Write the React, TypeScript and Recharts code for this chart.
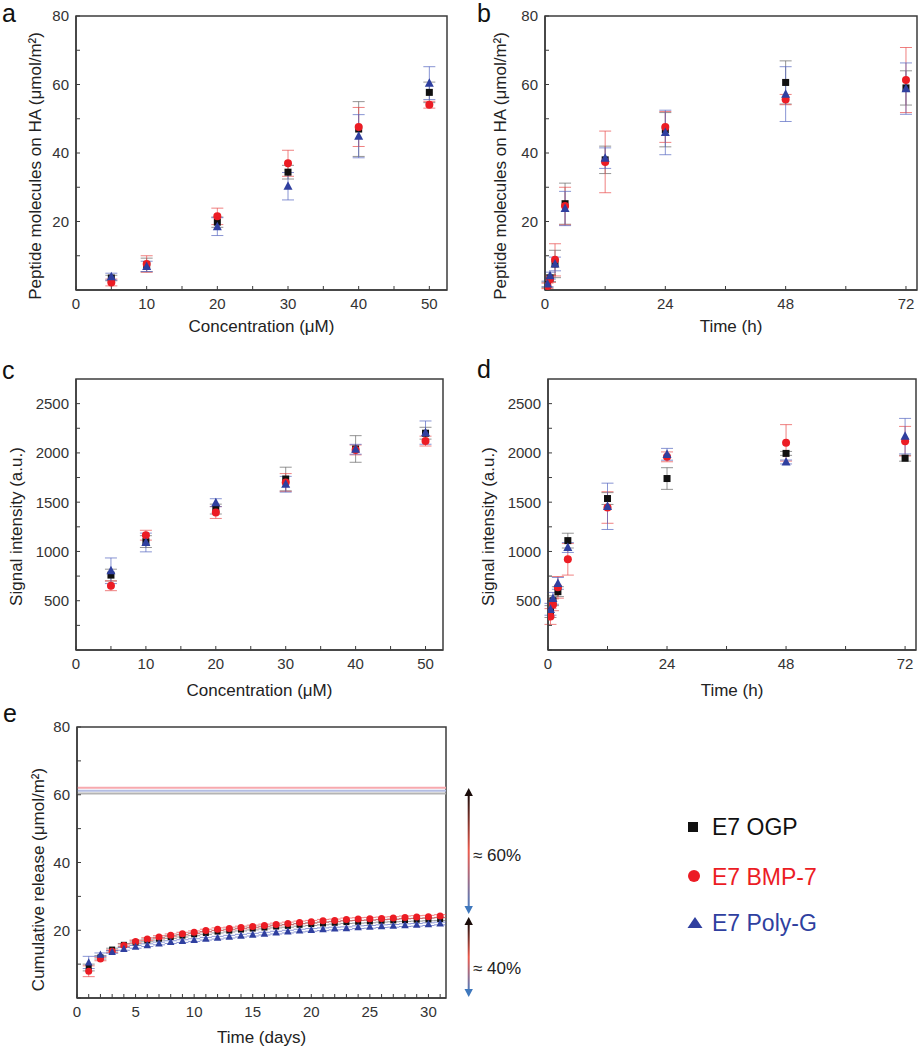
import React from "react";
import { ScatterChart, Scatter, XAxis, YAxis, ErrorBar, ReferenceArea, ReferenceLine } from "recharts";

const FONT = '"Liberation Sans", Arial, Helvetica, sans-serif';
const AXIS = "#3c3c3c";
const BLACK = "#111111";
const RED = "#ec1c24";
const BLUE = "#2f3f9f";

const NAMES = ["E7 OGP", "E7 BMP-7", "E7 Poly-G"];

// a: adsorption vs concentration
const concA = [5, 10, 20, 30, 40, 50];
const ogpA = [3.5, 7.3, 19.8, 34.4, 47.0, 57.7];
const ogpAErr = [0.8, 2.0, 1.5, 2.0, 8.0, 3.0];
const bmpA = [2.2, 7.6, 21.5, 37.0, 47.6, 54.1];
const bmpAErr = [1.0, 2.4, 2.4, 3.8, 5.7, 1.0];
const polyA = [3.9, 6.9, 18.5, 30.3, 44.9, 60.4];
const polyAErr = [1.0, 1.5, 2.6, 4.0, 6.3, 4.8];

// b: adsorption vs time
const timeB = [0.5, 1, 2, 4, 12, 24, 48, 72];
const ogpB = [1.5, 3.5, 7.6, 25.2, 38.0, 46.8, 60.6, 59.0];
const ogpBErr = [0.8, 1.0, 4.0, 6.0, 4.0, 5.0, 6.3, 5.0];
const bmpB = [1.2, 3.2, 8.8, 24.5, 37.4, 47.6, 55.6, 61.3];
const bmpBErr = [0.8, 1.0, 4.7, 5.5, 9.0, 4.5, 1.5, 9.5];
const polyB = [1.8, 4.2, 7.6, 23.8, 38.5, 46.0, 57.2, 58.8];
const polyBErr = [0.8, 1.0, 2.0, 5.0, 3.0, 6.5, 8.0, 7.5];

// c: signal vs concentration
const concC = [5, 10, 20, 30, 40, 50];
const ogpC = [760, 1100, 1430, 1735, 2040, 2200];
const ogpCErr = [60, 60, 50, 120, 135, 60];
const bmpC = [652, 1165, 1395, 1700, 2030, 2120];
const bmpCErr = [50, 50, 60, 90, 50, 50];
const polyC = [804, 1091, 1495, 1682, 2037, 2206];
const polyCErr = [130, 95, 40, 80, 50, 118];

// d: signal vs time
const timeD = [0.5, 1, 2, 4, 12, 24, 48, 72];
const ogpD = [390, 500, 592, 1110, 1537, 1740, 1995, 1946];
const ogpDErr = [60, 50, 50, 75, 60, 110, 20, 30];
const bmpD = [340, 459, 636, 920, 1446, 1960, 2102, 2119];
const bmpDErr = [80, 60, 110, 160, 160, 50, 185, 150];
const polyD = [413, 524, 676, 1040, 1458, 1986, 1908, 2170];
const polyDErr = [60, 60, 60, 50, 235, 60, 20, 180];

// e: cumulative release
const daysE = [1, 2, 3, 4, 5, 6, 7, 8, 9, 10, 11, 12, 13, 14, 15, 16, 17, 18, 19, 20, 21, 22, 23, 24, 25, 26, 27, 28, 29, 30, 31];
const ogpE = [9.0, 12.0, 14.3, 15.7, 16.4, 17.0, 17.5, 18.0, 18.4, 18.8, 19.2, 19.6, 19.9, 20.2, 20.5, 20.8, 21.1, 21.3, 21.6, 21.8, 22.0, 22.2, 22.4, 22.5, 22.6, 22.8, 22.9, 23.0, 23.1, 23.2, 23.3];
const ogpEErr = [1.0, 0.5, 0.4, 0.4, 0.4, 0.4, 0.4, 0.4, 0.4, 0.4, 0.4, 0.4, 0.4, 0.4, 0.4, 0.4, 0.4, 0.4, 0.4, 0.4, 0.4, 0.4, 0.4, 0.4, 0.4, 0.4, 0.4, 0.4, 0.4, 0.4, 0.4];
const bmpE = [7.9, 11.5, 13.8, 15.5, 16.7, 17.4, 18.0, 18.5, 19.0, 19.4, 19.9, 20.3, 20.5, 20.8, 21.1, 21.4, 21.7, 22.0, 22.3, 22.5, 22.8, 22.9, 23.2, 23.3, 23.4, 23.5, 23.6, 23.8, 23.9, 24.0, 24.2];
const bmpEErr = [1.6, 0.5, 0.4, 0.4, 0.4, 0.4, 0.4, 0.4, 0.4, 0.4, 0.4, 0.4, 0.4, 0.4, 0.4, 0.4, 0.4, 0.4, 0.4, 0.4, 0.4, 0.4, 0.4, 0.4, 0.4, 0.4, 0.4, 0.4, 0.4, 0.4, 0.4];
const polyE = [10.5, 12.8, 13.6, 14.5, 15.1, 15.6, 16.1, 16.5, 16.8, 17.1, 17.5, 17.8, 18.1, 18.4, 18.7, 19.0, 19.3, 19.6, 19.9, 20.1, 20.3, 20.5, 20.6, 20.9, 21.0, 21.2, 21.3, 21.5, 21.6, 21.8, 22.0];
const polyEErr = [1.8, 0.5, 0.4, 0.4, 0.4, 0.4, 0.4, 0.4, 0.4, 0.4, 0.4, 0.4, 0.4, 0.4, 0.4, 0.4, 0.4, 0.4, 0.4, 0.4, 0.4, 0.4, 0.4, 0.4, 0.4, 0.4, 0.4, 0.4, 0.4, 0.4, 0.4];
// loaded amount lines (OGP, BMP-7, Poly-G)
const loadedE = [60.4, 62.1, 61.2];

const concTicks = [0, 5, 10, 15, 20, 25, 30, 35, 40, 45, 50];
const concLabels = [0, 10, 20, 30, 40, 50];
const hourTicks = [0, 12, 24, 36, 48, 60, 72];
const hourLabels = [0, 24, 48, 72];
const dayTicks = [0, ...daysE];
const dayLabels = [0, 5, 10, 15, 20, 25, 30];
const molTicks = [0, 10, 20, 30, 40, 50, 60, 70, 80];
const molLabels = [20, 40, 60, 80];
const sigTicks = [0, 250, 500, 750, 1000, 1250, 1500, 1750, 2000, 2250, 2500];
const sigLabels = [500, 1000, 1500, 2000, 2500];

const pts = (xs: number[], ys: number[], es: number[]) => xs.map((x, i) => ({ x, y: ys[i], e: es[i] }));

const square = (s: number) => (p: any) => <rect x={p.cx - s / 2} y={p.cy - s / 2} width={s} height={s} fill={BLACK} />;
const dot = (s: number) => (p: any) => <circle cx={p.cx} cy={p.cy} r={s / 2} fill={RED} />;
const tri = (s: number) => (p: any) => (
  <polygon points={`${p.cx},${p.cy - s * 0.55} ${p.cx - s / 2},${p.cy + s * 0.4} ${p.cx + s / 2},${p.cy + s * 0.4}`} fill={BLUE} />
);

function Panel(props: any) {
  const { left, top, width, height, margin, yWidth, xHeight, xDomain, yDomain, xTicks, xShow, yTicks, yShow,
    xLabel, yLabel, xLabelOffset, yLabelOffset, yLabelDy, series, small, children } = props;
  const sz = small ? [6, 7, 7.5] : [7, 8, 9];
  const shapes = [square(sz[0]), dot(sz[1]), tri(sz[2])];
  const errColors = ["#666", "#e84a4a", "#5566c0"];
  return (
    <div style={{ position: "absolute", left, top }}>
      <ScatterChart width={width} height={height} margin={margin}>
        <XAxis type="number" dataKey="x" domain={xDomain} allowDataOverflow ticks={xTicks} interval={0}
          tickFormatter={(v: number) => (xShow.includes(v) ? String(v) : "")}
          tickSize={-4} tickMargin={12} height={xHeight}
          axisLine={{ stroke: AXIS, strokeWidth: 1.5 }} tickLine={{ stroke: AXIS }}
          tick={{ fill: "#333", fontSize: 15, fontFamily: FONT }}
          label={{ value: xLabel, position: "insideBottom", offset: xLabelOffset, fill: "#222", fontSize: 17, fontFamily: FONT }} />
        <YAxis type="number" dataKey="y" domain={yDomain} allowDataOverflow ticks={yTicks} interval={0}
          tickFormatter={(v: number) => (yShow.includes(v) ? String(v) : "")}
          tickSize={-4} tickMargin={11} width={yWidth}
          axisLine={{ stroke: AXIS, strokeWidth: 1.5 }} tickLine={{ stroke: AXIS }}
          tick={{ fill: "#333", fontSize: 15, fontFamily: FONT }}
          label={{ value: yLabel, angle: -90, position: "insideLeft", offset: yLabelOffset, dy: yLabelDy,
            fill: "#222", fontSize: 17, fontFamily: FONT, style: { textAnchor: "middle" } }} />
        <ReferenceArea x1={xDomain[0]} x2={xDomain[1]} y1={yDomain[0]} y2={yDomain[1]}
          fill="none" fillOpacity={0} stroke={AXIS} strokeWidth={1.5} ifOverflow="visible" />
        {children}
        {series.map((d: any[], i: number) => (
          <Scatter key={NAMES[i]} name={NAMES[i]} data={d} shape={shapes[i]} isAnimationActive={false}>
            <ErrorBar dataKey="e" direction="y" width={6} stroke={errColors[i]} strokeWidth={1} strokeOpacity={0.7} />
          </Scatter>
        ))}
      </ScatterChart>
    </div>
  );
}

export default function App() {
  const molLabel = "Peptide molecules on HA (μmol/m²)";
  return (
    <div style={{ position: "absolute", left: 0, top: 0, width: 922, height: 1050, background: "#fff", fontFamily: FONT }}>
      <Panel left={0} top={0} width={460} height={340} margin={{ top: 16, right: 13, left: 0, bottom: 4 }}
        yWidth={76} xHeight={46} xDomain={[0, 52.5]} yDomain={[0, 80]} xTicks={concTicks} xShow={concLabels}
        yTicks={molTicks} yShow={molLabels} xLabel="Concentration (μM)" yLabel={molLabel}
        xLabelOffset={4} yLabelOffset={35} yLabelDy={13}
        series={[pts(concA, ogpA, ogpAErr), pts(concA, bmpA, bmpAErr), pts(concA, polyA, polyAErr)]} />
      <Panel left={460} top={0} width={462} height={340} margin={{ top: 16, right: 5, left: 0, bottom: 4 }}
        yWidth={85} xHeight={46} xDomain={[0, 74.2]} yDomain={[0, 80]} xTicks={hourTicks} xShow={hourLabels}
        yTicks={molTicks} yShow={molLabels} xLabel="Time (h)" yLabel={molLabel}
        xLabelOffset={4} yLabelOffset={40} yLabelDy={13}
        series={[pts(timeB, ogpB, ogpBErr), pts(timeB, bmpB, bmpBErr), pts(timeB, polyB, polyBErr)]} />
      <Panel left={0} top={340} width={460} height={360} margin={{ top: 39, right: 17, left: 0, bottom: 0 }}
        yWidth={76} xHeight={50} xDomain={[0, 52.5]} yDomain={[0, 2750]} xTicks={concTicks} xShow={concLabels}
        yTicks={sigTicks} yShow={sigLabels} xLabel="Concentration (μM)" yLabel="Signal intensity (a.u.)"
        xLabelOffset={4} yLabelOffset={16} yLabelDy={12}
        series={[pts(concC, ogpC, ogpCErr), pts(concC, bmpC, bmpCErr), pts(concC, polyC, polyCErr)]} />
      <Panel left={460} top={340} width={462} height={360} margin={{ top: 39, right: 6, left: 0, bottom: 0 }}
        yWidth={88} xHeight={50} xDomain={[0, 74.2]} yDomain={[0, 2750]} xTicks={hourTicks} xShow={hourLabels}
        yTicks={sigTicks} yShow={sigLabels} xLabel="Time (h)" yLabel="Signal intensity (a.u.)"
        xLabelOffset={4} yLabelOffset={28} yLabelDy={12}
        series={[pts(timeD, ogpD, ogpDErr), pts(timeD, bmpD, bmpDErr), pts(timeD, polyD, polyDErr)]} />
      <Panel left={0} top={700} width={460} height={350} margin={{ top: 27, right: 14, left: 0, bottom: 0 }}
        yWidth={77} xHeight={52} xDomain={[0, 31.5]} yDomain={[0, 80]} xTicks={dayTicks} xShow={dayLabels}
        yTicks={molTicks} yShow={molLabels} xLabel="Time (days)" yLabel="Cumulative release (μmol/m²)"
        xLabelOffset={7} yLabelOffset={38} yLabelDy={17} small
        series={[pts(daysE, ogpE, ogpEErr), pts(daysE, bmpE, bmpEErr), pts(daysE, polyE, polyEErr)]}>
        <ReferenceLine y={loadedE[0]} stroke="#b4b4b4" strokeWidth={2} ifOverflow="visible" />
        <ReferenceLine y={loadedE[2]} stroke="#b3bde3" strokeWidth={2} ifOverflow="visible" />
        <ReferenceLine y={loadedE[1]} stroke="#f7a9ae" strokeWidth={2} ifOverflow="visible" />
      </Panel>

      <svg width={922} height={1050} style={{ position: "absolute", left: 0, top: 0, pointerEvents: "none" }}
        fontFamily={FONT}>
        <defs>
          <linearGradient id="arrowGrad" x1="0" y1="0" x2="0" y2="1">
            <stop offset="0%" stopColor="#1a0c0a" />
            <stop offset="50%" stopColor="#ec5a4c" />
            <stop offset="100%" stopColor="#4a7ec2" />
          </linearGradient>
        </defs>
        <g fontSize={25} fill="#111">
          <text x={2} y={22}>a</text>
          <text x={477} y={22}>b</text>
          <text x={2} y={379}>c</text>
          <text x={477} y={378}>d</text>
          <text x={3} y={722}>e</text>
        </g>
        {[[788, 914], [917, 997]].map(([y1, y2], i) => (
          <g key={i}>
            <rect x={467.7} y={y1 + 5} width={2} height={y2 - y1 - 10} fill="url(#arrowGrad)" />
            <polygon points={`468.7,${y1} 464.5,${y1 + 8} 472.9,${y1 + 8}`} fill="#1a0c0a" />
            <polygon points={`468.7,${y2} 464.5,${y2 - 8} 472.9,${y2 - 8}`} fill="#3f78bd" />
          </g>
        ))}
        <text x={473} y={861} fontSize={17} fill="#222">≈ 60%</text>
        <text x={473} y={974} fontSize={17} fill="#222">≈ 40%</text>

        <rect x={688} y={822} width={10} height={10} fill={BLACK} />
        <text x={712} y={835} fontSize={23} fill={BLACK}>{NAMES[0]}</text>
        <circle cx={694} cy={876} r={6} fill={RED} />
        <text x={712} y={885} fontSize={23} fill={RED}>{NAMES[1]}</text>
        <polygon points="695,917 687.5,928 702.5,928" fill={BLUE} />
        <text x={712} y={931} fontSize={23} fill={BLUE}>{NAMES[2]}</text>
      </svg>
    </div>
  );
}
